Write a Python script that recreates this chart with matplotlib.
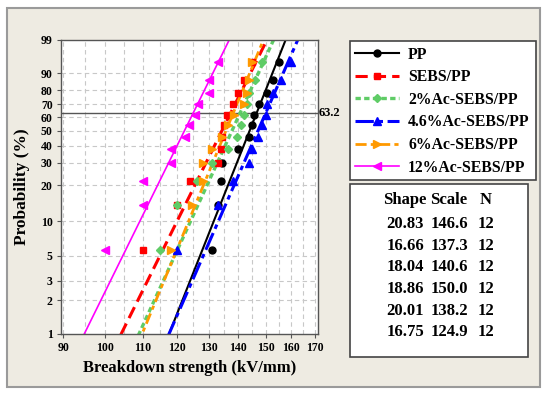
import numpy as np
import matplotlib
matplotlib.use("Agg")
import matplotlib.pyplot as plt
from matplotlib.lines import Line2D
from matplotlib.patches import Rectangle
from matplotlib.ticker import FixedLocator, FixedFormatter, NullFormatter

# ============================================================
# Data
# ============================================================

LABELS = ["PP", "SEBS/PP", "2%Ac-SEBS/PP", "4.6%Ac-SEBS/PP",
          "6%Ac-SEBS/PP", "12%Ac-SEBS/PP"]

SHAPE = [20.83, 16.66, 18.04, 18.86, 20.01, 16.75]
SCALE = [146.6, 137.3, 140.6, 150.0, 138.2, 124.9]
N_SAMPLES = [12, 12, 12, 12, 12, 12]

# median rank probabilities (%) for the 12 ordered samples
PROB = [5.6, 13.7, 21.8, 29.8, 37.9, 46.0, 54.0, 62.1, 70.2, 78.2, 86.3, 94.4]

PP = [131, 133, 134, 134.5, 140, 144, 145, 145.5, 147.5, 150.5, 153, 155]
SEBS_PP = [110, 120, 124, 133, 134, 134.5, 135, 136, 138, 140, 142, 145]
AC2 = [115, 120, 126, 131, 136.5, 139.5, 141, 142, 143, 144, 146, 148.5]
AC46 = [120, 133, 138, 144, 145, 147, 148.5, 150, 150.5, 153, 156, 160]
AC6 = [118, 124.5, 128, 128, 131, 134.5, 136.5, 138.5, 142, 143, 144, 145]
AC12 = [100, 110, 110, 118, 118, 122.5, 123.5, 125.5, 126.5, 130, 130, 133]

SERIES = [PP, SEBS_PP, AC2, AC46, AC6, AC12]

X_TICKS = [90, 100, 110, 120, 130, 140, 150, 160, 170]
X_GRID = np.arange(90, 171, 5)
Y_TICKS = [1, 2, 3, 5, 10, 20, 30, 40, 50, 60, 70, 80, 90, 99]

# ============================================================
# Styles
# ============================================================

COLORS = ["#000000", "#FF0000", "#5FCC66", "#0000FF", "#FF9900", "#FF00FF"]
MARKERS = ["o", "s", "D", "^", ">", "<"]
MSIZE = [5, 5, 4.5, 5.5, 5.5, 5.5]
LWS = [1.5, 2.2, 2.4, 2.2, 2.0, 1.2]
DASHES = [None, (4, 2), (1.6, 1.0), (6, 1.5, 1.5, 1.5), (4, 1.5, 1.5, 1.5), None]

FONT = "Liberation Serif"
BG = "#EEEBE2"


def weibull_fwd(p):
    p = np.clip(np.asarray(p, dtype=float), 1e-6, 100 - 1e-6)
    return np.log(-np.log(1 - p / 100.0))


def weibull_inv(w):
    return 100.0 * (1 - np.exp(-np.exp(np.asarray(w, dtype=float))))


fig = plt.figure(figsize=(5.5, 3.96), dpi=100)
fig.patch.set_facecolor("white")

# beige panel with grey frame
fig.add_artist(Rectangle((7 / 550, 1 - 387 / 396), 533 / 550, 379 / 396,
                         transform=fig.transFigure, facecolor=BG,
                         edgecolor="#9A9A9A", lw=1.5, zorder=-10))

ax = fig.add_axes([61 / 550, 1 - 334 / 396, 257 / 550, 294 / 396])
ax.set_facecolor("white")
ax.set_xscale("log")
ax.set_yscale("function", functions=(weibull_fwd, weibull_inv))
ax.set_xlim(89.5, 171.2)
ax.set_ylim(1, 99)

# grid
for gx in X_GRID:
    ax.axvline(gx, color="#C8C8C8", lw=0.8, ls=(0, (4, 3)), zorder=0)
for gy in Y_TICKS[1:-1]:
    ax.axhline(gy, color="#C8C8C8", lw=0.8, ls=(0, (4, 3)), zorder=0)

ax.axhline(63.2, color="#555555", lw=1.0, zorder=1)
ax.text(1.004, 63.2, "63.2", transform=ax.get_yaxis_transform(),
        ha="left", va="center", fontsize=9, fontweight="bold",
        family=FONT)

p_line = np.array([0.5, 99.9])
for i, vals in enumerate(SERIES):
    x_line = SCALE[i] * (-np.log(1 - p_line / 100.0)) ** (1.0 / SHAPE[i])
    ln, = ax.plot(x_line, p_line, color=COLORS[i], lw=LWS[i], zorder=2)
    if DASHES[i] is not None:
        ln.set_dashes(DASHES[i])
    ax.plot(vals, PROB, ls="none", marker=MARKERS[i], ms=MSIZE[i],
            color=COLORS[i], mec=COLORS[i], zorder=3)

ax.xaxis.set_major_locator(FixedLocator(X_TICKS))
ax.xaxis.set_major_formatter(FixedFormatter([str(t) for t in X_TICKS]))
ax.xaxis.set_minor_locator(FixedLocator([]))
ax.xaxis.set_minor_formatter(NullFormatter())
ax.yaxis.set_major_locator(FixedLocator(Y_TICKS))
ax.yaxis.set_major_formatter(FixedFormatter([str(t) for t in Y_TICKS]))
ax.yaxis.set_minor_locator(FixedLocator([]))

ax.tick_params(direction="out", length=3, width=0.8, color="#555555",
               pad=3, labelsize=8.5)
for lab in ax.get_xticklabels() + ax.get_yticklabels():
    lab.set_fontweight("bold")
    lab.set_family(FONT)
for sp in ax.spines.values():
    sp.set_color("#555555")
    sp.set_linewidth(1.0)

ax.set_xlabel("Breakdown strength (kV/mm)", fontsize=12, fontweight="bold",
              family=FONT, labelpad=4)
ax.set_ylabel("Probability (%)", fontsize=12.5, fontweight="bold",
              family=FONT, labelpad=8)

# legend (frame drawn separately so the box size matches)
fig.add_artist(Rectangle((350 / 550, 1 - 180 / 396), 186 / 550, 139 / 396,
                         transform=fig.transFigure, facecolor="white",
                         edgecolor="#444444", lw=1.2, zorder=1))
handles = []
for i in range(len(LABELS)):
    h = Line2D([], [], color=COLORS[i], lw=LWS[i], marker=MARKERS[i],
               ms=MSIZE[i])
    if DASHES[i] is not None:
        h.set_dashes(DASHES[i])
    handles.append(h)
leg = fig.legend(handles, LABELS, loc="upper left",
                 bbox_to_anchor=(350 / 550, 1 - 42 / 396),
                 borderaxespad=0, numpoints=1, handlelength=2.85,
                 handletextpad=0.55, labelspacing=0.42, borderpad=0.3,
                 frameon=False,
                 prop={"family": FONT, "weight": "bold", "size": 11.3})
leg.set_zorder(2)

# parameter table
fig.add_artist(Rectangle((350 / 550, 1 - 357 / 396), 178 / 550, 173 / 396,
                         transform=fig.transFigure, facecolor="white",
                         edgecolor="#444444", lw=1.2, zorder=1))
col_x = [405 / 550, 449 / 550, 486 / 550]
txt = dict(ha="center", va="center", fontsize=12, fontweight="bold",
           family=FONT, zorder=2)
for cx, head in zip(col_x, ["Shape", "Scale", "N"]):
    fig.text(cx, 1 - 200 / 396, head, **txt)
for r in range(len(SHAPE)):
    y = 1 - (224 + r * 21.7) / 396
    fig.text(col_x[0], y, f"{SHAPE[r]:.2f}", **txt)
    fig.text(col_x[1], y, f"{SCALE[r]:.1f}", **txt)
    fig.text(col_x[2], y, str(N_SAMPLES[r]), **txt)

fig.savefig("out.png", dpi=100, facecolor=fig.get_facecolor())
